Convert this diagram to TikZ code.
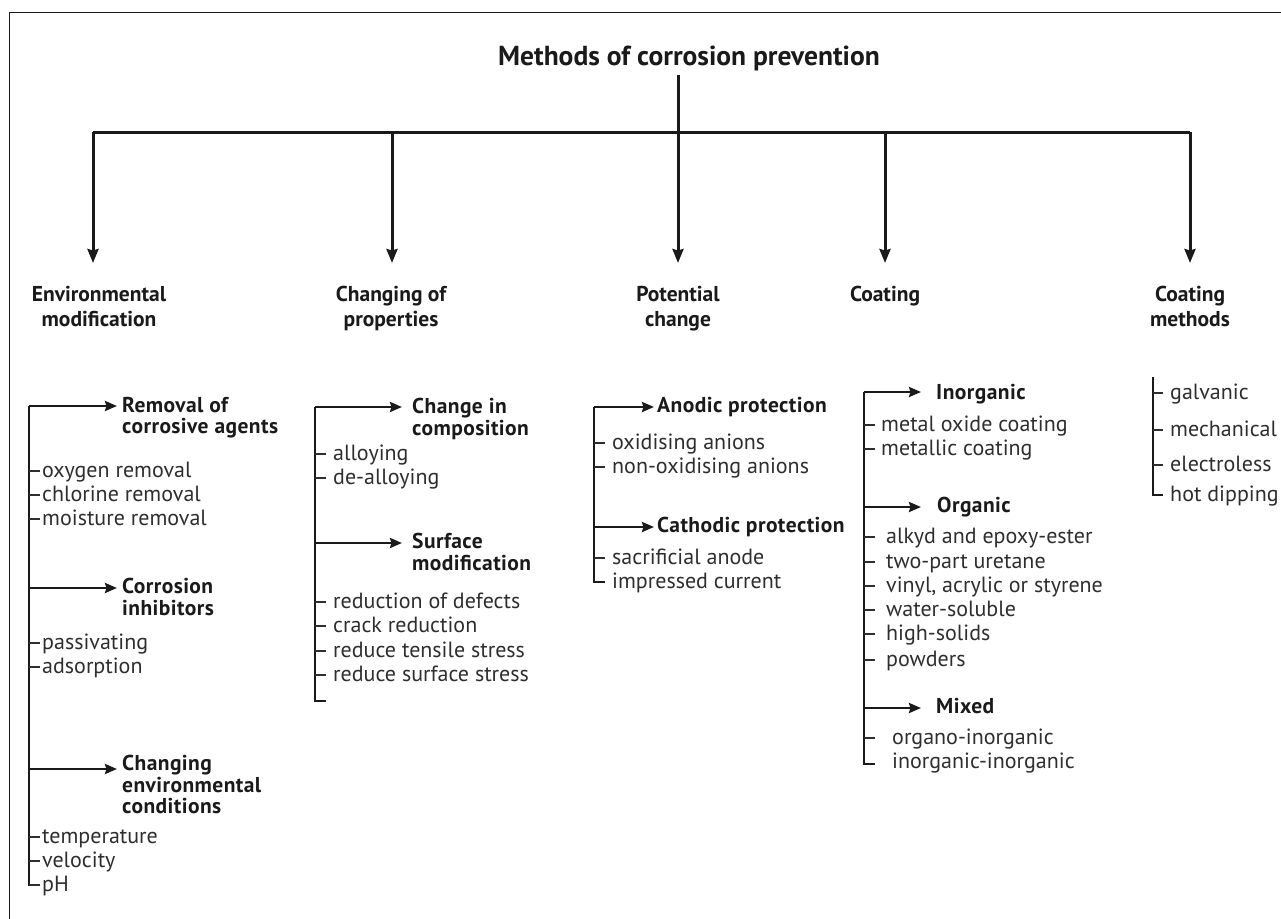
\documentclass[tikz,border=0pt]{standalone}
\usepackage{fontspec}
\setmainfont{PT Sans}
\usetikzlibrary{arrows.meta}
\definecolor{ink}{HTML}{1A1A1A}
\definecolor{txt}{HTML}{2E2E2E}
\begin{document}
\begin{tikzpicture}[x=1pt,y=-1pt,
  titlenode/.style={font=\bfseries\fontsize{27.5}{30}\selectfont, text=ink, anchor=base, inner sep=0},
  headnode/.style={font=\bfseries\fontsize{21.5}{25}\selectfont, text=ink, align=center, anchor=north, inner sep=0},
  subnode/.style={font=\bfseries\fontsize{21.5}{21.5}\selectfont\addfontfeature{LetterSpace=2}, text=ink, align=left, anchor=north west, inner sep=0},
  itemnode/.style={font=\fontsize{22}{24}\selectfont, text=txt, anchor=base west, inner sep=0},
  trunk/.style={line width=3pt, draw=ink},
  mainarrow/.style={trunk, -{Stealth[length=14pt,width=11pt,inset=1.5pt]}},
  branch/.style={line width=2.8pt, draw=ink},
  subarrow/.style={branch, -{Stealth[length=12pt,width=10pt,inset=1.5pt]}},
  tickline/.style={line width=1.6pt, draw=txt}
]
\clip (0,0) rectangle (1281,918);
\draw[line width=1.3pt, draw=ink] (9.5,1000) -- (9.5,12.5) -- (1300,12.5);

% title and main tree
\node[titlenode] (title) at (689,65) {Methods of corrosion prevention};
\coordinate (t0) at (678,75);
\coordinate (j0) at (678,132);
\coordinate (jl) at (93,132);
\coordinate (jr) at (1190,132);
\draw[trunk] (t0) -- (j0);
\draw[trunk, line cap=butt] (jl) -- (jr);
\foreach \x/\n in {93/a1,392/a2,678/a3,885/a4,1190/a5}{
  \coordinate (\n s) at (\x,132);
  \coordinate (\n e) at (\x,263);
  \draw[mainarrow] (\n s) -- (\n e);
}

% headings
\node[headnode] (h1) at (99,286) {Environmental\\modification};
\node[headnode] (h2) at (391,286) {Changing of\\properties};
\node[headnode] (h3) at (678,286) {Potential\\change};
\node[headnode] (h4) at (885,286) {Coating};
\node[headnode] (h5) at (1190,286) {Coating\\methods};

% ---------- column 1
\coordinate (c1top) at (29,406);
\coordinate (c1bot) at (29,885);
\draw[branch, line cap=butt] (c1top) -- (c1bot) -- (40,885);
\coordinate (c1a) at (29,406);
\coordinate (c1b) at (29,588);
\coordinate (c1c) at (29,769);
\node[subnode] (s11) at (122,397) {Removal of\\corrosive agents};
\node[subnode] (s12) at (122,578) {Corrosion\\inhibitors};
\node[subnode] (s13) at (122,755) {Changing\\environmental\\conditions};
\draw[subarrow] (c1a) -- (117,406);
\draw[subarrow] (c1b) -- (117,588);
\draw[subarrow] (c1c) -- (117,769);
\foreach \y/\t in {471/oxygen removal,495/chlorine removal,519/moisture removal,643/passivating,667/adsorption,837/temperature,861/velocity,885/pH}{
  \draw[tickline] (29,\y) -- (40,\y);
  \node[itemnode] at (42,\y+6) {\t};
}

% ---------- column 2
\coordinate (c2top) at (315,407);
\coordinate (c2bot) at (315,701);
\draw[branch, line cap=butt] (c2top) -- (c2bot) -- (326,701);
\node[subnode] (s21) at (412,398) {Change in\\composition};
\node[subnode] (s22) at (412,533) {Surface\\modification};
\draw[subarrow] (c2top) -- (402,407);
\coordinate (c2b) at (315,543);
\draw[subarrow] (c2b) -- (402,543);
\foreach \y/\t in {454/alloying,478/de-alloying,602/reduction of defects,626/crack reduction,651/reduce tensile stress,675/reduce surface stress}{
  \draw[tickline] (315,\y) -- (326,\y);
  \node[itemnode] at (333,\y+6) {\t};
}

% ---------- column 3
\coordinate (c3top) at (594,407);
\coordinate (c3bot) at (594,582);
\draw[branch, line cap=butt] (c3top) -- (c3bot) -- (605,582);
\node[subnode] (s31) at (657,397) {Anodic protection};
\node[subnode] (s32) at (657,517) {Cathodic protection};
\draw[subarrow] (c3top) -- (654,407);
\coordinate (c3b) at (594,527);
\draw[subarrow] (c3b) -- (654,527);
\foreach \y/\t in {443/oxidising anions,467/non-oxidising anions,558/sacrificial anode}{
  \draw[tickline] (594,\y) -- (605,\y);
  \node[itemnode] at (612,\y+6) {\t};
}
\node[itemnode] at (612,588) {impressed current};

% ---------- column 4
\coordinate (c4top) at (864,392);
\coordinate (c4bot) at (864,764);
\draw[branch, line cap=butt] (c4top) -- (c4bot) -- (875,764);
\node[subnode] (s41) at (936,384) {Inorganic};
\node[subnode] (s42) at (937,497) {Organic};
\node[subnode] (s43) at (936,698) {Mixed};
\draw[subarrow] (c4top) -- (921,392);
\coordinate (c4b) at (864,507);
\coordinate (c4c) at (864,708);
\draw[subarrow] (c4b) -- (921,507);
\draw[subarrow] (c4c) -- (921,708);
\foreach \y/\t in {425/metal oxide coating,449/metallic coating}{
  \draw[tickline] (864,\y) -- (875,\y);
  \node[itemnode] at (881,\y+6) {\t};
}
\foreach \y/\t in {537/alkyd and epoxy-ester,562/two-part uretane,586/{vinyl, acrylic or styrene},610/water-soluble,634/high-solids,660/powders}{
  \draw[tickline] (864,\y) -- (875,\y);
  \node[itemnode] at (886,\y+6) {\t};
}
\draw[tickline] (864,738) -- (875,738);
\node[itemnode] at (892,744) {organo-inorganic};
\node[itemnode] at (892,768) {inorganic-inorganic};

% ---------- column 5
\coordinate (c5top) at (1153,377);
\coordinate (c5bot) at (1153,495);
\draw[branch, line cap=butt] (c5top) -- (c5bot) -- (1163,495);
\foreach \y/\t in {393/galvanic,430/mechanical,465/electroless}{
  \draw[tickline] (1153,\y) -- (1163,\y);
  \node[itemnode] at (1170,\y+6) {\t};
}
\node[itemnode] at (1170,501) {hot dipping};
\end{tikzpicture}
\end{document}
